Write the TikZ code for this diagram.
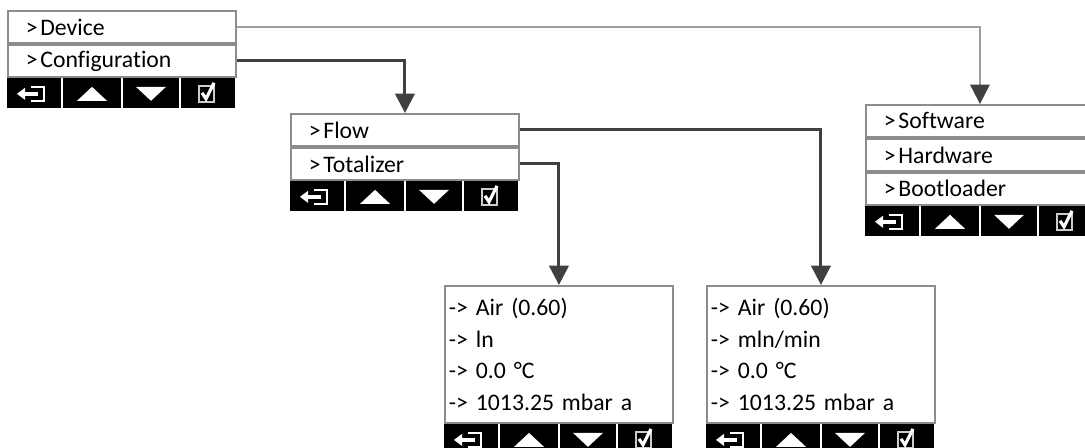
\documentclass[tikz,border=0pt]{standalone}
\usepackage{fontspec}
\setmainfont{Carlito}[Ligatures={NoCommon}]
\usetikzlibrary{arrows.meta}

\definecolor{framegray}{gray}{0.55}
\definecolor{linegray}{gray}{0.62}
\definecolor{wiregray}{gray}{0.25}

% key bar under a menu, hung from the given anchor (sizes in px)
\newcommand{\keybar}[1]{%
  \begin{scope}[shift={(#1)}]
    \fill[black] (0,0) rectangle (228,30);
    \foreach \sx in {55,115,173}
      \draw[white, line width=1.1pt] (\sx,0) -- (\sx,30);
    % back key
    \fill[white] (10,16) -- (18,10) -- (18,22) -- cycle;
    \fill[white] (18,14) rectangle (31,18);
    \draw[white, line width=1.4pt] (24,9) -- (37,9) -- (37,23) -- (24,23);
    % up and down keys
    \fill[white] (70,23) -- (100,23) -- (85,9) -- cycle;
    \fill[white] (129,9) -- (159,9) -- (144,23) -- cycle;
    % enter key
    \draw[white!80!black, line width=1.1pt] (192,8) rectangle (207,24);
    \draw[white, line width=1.8pt] (195,15) -- (199,21) -- (207,5);
  \end{scope}}

\begin{document}
\begin{tikzpicture}[x=0.02cm, y=-0.02cm, line width=0.7pt,
  menurow/.style={draw=framegray, line width=1.1pt, fill=white, anchor=north west,
    minimum width=4.56cm, minimum height=0.64cm, inner xsep=0.36cm, inner ysep=0pt,
    text width=3.84cm, align=left, font=\fontsize{13.5}{15}\selectfont},
  readout/.style={draw=framegray, line width=1.1pt, fill=white, anchor=north west,
    minimum width=4.56cm, minimum height=2.74cm, inner xsep=0.08cm, inner ysep=0pt,
    text width=4.4cm, align=left, font=\fontsize{13.5}{18}\selectfont},
  wire/.style={draw=wiregray, line width=1.7pt,
    -{Triangle[length=11pt, width=11pt, color=wiregray]}}]
  \useasboundingbox (0,0) rectangle (1085,448);
  \clip (0,0) rectangle (1085,448);

  % main menu
  \node[menurow] (dev) at (7,10) {>\kern1.5pt Device};
  \node[menurow] (cfg) at (dev.south west) {>\kern1.5pt Configuration};
  \keybar{cfg.south west}

  % configuration menu
  \node[menurow] (flow) at (290,113) {>\kern1.5pt Flow};
  \node[menurow] (tot) at (flow.south west) {>\kern1.5pt Totalizer};
  \keybar{tot.south west}

  % device menu
  \node[menurow] (sw) at (865,104) {>\kern1.5pt Software};
  \node[menurow] (hw) at (sw.south west) {>\kern1.5pt Hardware};
  \node[menurow] (boot) at (hw.south west) {>\kern1.5pt Bootloader};
  \keybar{boot.south west}

  % readouts
  \node[readout] (resTot) at (444,285)
    {-> Air (0.60)\\-> ln\\-> 0.0 °C\\-> 1013.25 mbar a};
  \keybar{resTot.south west}
  \node[readout] (resFlow) at (706,285)
    {-> Air (0.60)\\-> mln/min\\-> 0.0 °C\\-> 1013.25 mbar a};
  \keybar{resFlow.south west}

  % links
  \draw[wire, draw=linegray, line width=1.1pt] (dev.east) -| (sw.north);
  \draw[wire] (cfg.east) -| (flow.north);
  \draw[wire] (flow.east) -| (resFlow.north);
  \draw[wire] (tot.east) -| (resTot.north);
\end{tikzpicture}
\end{document}
